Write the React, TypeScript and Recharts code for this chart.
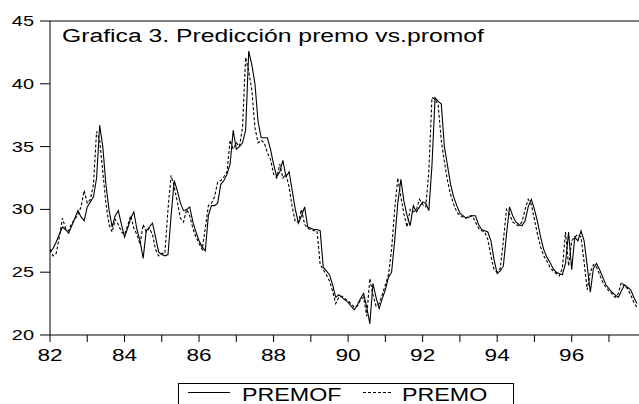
import { LineChart, Line, XAxis, YAxis, ReferenceLine } from "recharts";

// monthly observations, 1982:01 - 1997:10
const premof = [
  26.6, 26.9, 27.4, 28.0, 28.6, 28.4, 28.1, 28.7, 29.3, 29.9, 29.4, 29.1, // 82
  30.2, 30.6, 31.0, 32.5, 36.7, 35.0, 32.0, 30.0, 28.6, 29.5, 29.9, 28.8, // 83
  27.8, 28.5, 29.3, 29.8, 28.4, 27.5, 26.1, 28.3, 28.6, 28.9, 27.8, 26.6, // 84
  26.4, 26.3, 26.4, 29.5, 32.3, 31.5, 30.5, 29.9, 30.0, 30.2, 29.0, 28.2, // 85
  27.5, 27.0, 26.7, 29.5, 30.3, 30.3, 30.5, 32.0, 32.3, 32.8, 33.6, 36.3, // 86
  34.8, 35.0, 35.3, 36.3, 42.6, 41.5, 40.0, 37.0, 35.7, 35.7, 35.7, 34.8, // 87
  33.6, 32.6, 33.0, 33.9, 32.6, 33.0, 31.5, 30.0, 28.9, 29.5, 30.2, 28.6, // 88
  28.5, 28.4, 28.4, 28.3, 25.4, 25.1, 24.8, 24.0, 23.0, 23.2, 23.0, 22.8, // 89
  22.6, 22.3, 22.0, 22.4, 22.9, 23.3, 22.2, 20.9, 24.1, 23.0, 22.1, 22.9, // 90
  23.6, 24.6, 25.0, 27.5, 30.5, 32.4, 30.6, 29.5, 28.7, 30.3, 29.8, 30.2, // 91
  30.6, 30.5, 29.9, 33.5, 38.9, 38.6, 38.4, 35.0, 33.5, 32.0, 31.0, 30.3, // 92
  29.7, 29.5, 29.3, 29.4, 29.5, 29.5, 28.8, 28.4, 28.3, 28.2, 27.5, 26.0, // 93
  24.9, 25.1, 25.5, 28.0, 30.2, 29.5, 29.0, 28.8, 28.7, 29.1, 30.2, 30.8, // 94
  30.0, 29.0, 27.8, 26.8, 26.2, 25.8, 25.3, 25.0, 24.9, 24.8, 25.7, 28.2, // 95
  25.2, 27.8, 27.5, 28.3, 27.5, 25.5, 23.4, 25.3, 25.7, 25.2, 24.6, 24.0, // 96
  23.7, 23.4, 23.2, 23.0, 23.5, 24.0, 23.8, 23.6, 23.0, 22.5, // 97
];

const premo = [
  26.8, 26.3, 26.5, 27.8, 29.3, 28.5, 28.3, 28.9, 29.2, 29.6, 30.2, 31.5,
  30.5, 30.8, 32.0, 36.2, 35.5, 33.0, 30.5, 28.8, 28.2, 29.2, 28.8, 28.2,
  28.0, 28.7, 29.5, 28.5, 28.0, 27.2, 28.8, 28.2, 28.5, 28.0, 26.8, 26.3,
  26.5, 26.5, 30.0, 32.7, 31.8, 30.6, 29.3, 29.0, 30.0, 29.5, 28.5, 27.8,
  27.3, 26.8, 28.5, 30.3, 30.5, 31.0, 32.2, 32.3, 32.6, 33.0, 35.5, 34.8,
  35.3, 35.0, 36.5, 42.1, 41.0, 39.5, 36.5, 35.3, 35.5, 35.3, 34.5, 34.0,
  32.8, 32.5, 33.6, 32.5, 32.8, 31.8, 30.2, 29.0, 29.0, 30.0, 28.8, 28.5,
  28.4, 28.3, 28.3, 25.6, 25.2, 24.8, 24.3, 23.5, 22.5, 23.0, 23.1, 22.9,
  22.7, 22.5, 22.2, 22.3, 22.8, 23.0, 21.5, 24.5, 23.2, 22.3, 22.5, 23.2,
  24.0, 24.8, 26.8, 30.0, 32.5, 31.0, 29.6, 28.6, 30.0, 29.8, 30.0, 30.8,
  30.4, 30.2, 33.0, 38.9, 38.8, 38.3, 35.5, 33.8, 32.3, 31.2, 30.4, 29.8,
  29.5, 29.4, 29.3, 29.5, 29.5, 29.0, 28.5, 28.3, 28.2, 27.6, 26.3, 25.2,
  25.0, 25.3, 27.5, 30.0, 29.6, 29.0, 28.8, 28.7, 29.0, 30.0, 30.8, 30.4,
  29.2, 28.0, 27.0, 26.3, 25.9, 25.4, 25.1, 24.9, 24.7, 25.3, 28.2, 25.5,
  27.5, 27.8, 28.0, 27.8, 25.8, 23.6, 25.0, 25.6, 25.4, 24.8, 24.2, 23.8,
  23.5, 23.3, 23.0, 23.3, 24.2, 23.9, 23.7, 23.2, 22.6, 22.2,
];

const years = [82, 83, 84, 85, 86, 87, 88, 89, 90, 91, 92, 93, 94, 95, 96, 97];
const labelYears = [82, 84, 86, 88, 90, 92, 94, 96];
const yTicks = [20, 25, 30, 35, 40, 45];

const data = premof.map((v, i) => ({ m: i, premof: v, premo: premo[i] }));
const xTicks = years.map((y) => (y - 82) * 12);

const FONT = "'Liberation Sans', Arial, sans-serif";
const SX = 1.33; // the source graph is stretched horizontally

function XTick(props: any) {
  const { x, y, payload } = props;
  const yr = 82 + payload.value / 12;
  if (!labelYears.includes(yr)) return null;
  return (
    <g transform={`translate(${x},${y}) scale(${SX},1)`}>
      <text x={0} y={0} dy={17} textAnchor="middle" fontSize={17} fontFamily={FONT} fill="#000">
        {yr}
      </text>
    </g>
  );
}

function YTick(props: any) {
  const { x, y, payload } = props;
  return (
    <g transform={`translate(${x},${y}) scale(${SX},1)`}>
      <text x={0} y={0} dy={5} textAnchor="end" fontSize={15} fontFamily={FONT} fill="#000">
        {payload.value}
      </text>
    </g>
  );
}

export default function App() {
  return (
    <div style={{ position: "absolute", left: 0, top: 0, width: 639, height: 404, overflow: "hidden", background: "#fff" }}>
      <LineChart width={640} height={404} data={data} margin={{ top: 21, right: 0, left: 0, bottom: 0 }}>
        <XAxis
          dataKey="m"
          type="number"
          domain={[0, 190]}
          ticks={xTicks}
          tick={<XTick />}
          tickSize={7}
          stroke="#000"
          height={69}
          interval={0}
        />
        <YAxis
          domain={[20, 45]}
          ticks={yTicks}
          tick={<YTick />}
          tickSize={10}
          tickMargin={6}
          stroke="#000"
          width={50}
          interval={0}
        />
        <ReferenceLine y={45} stroke="#000" />
        <Line type="linear" dataKey="premof" stroke="#000" strokeWidth={1.1} dot={false} isAnimationActive={false} />
        <Line type="linear" dataKey="premo" stroke="#000" strokeWidth={1.1} strokeDasharray="3 2" dot={false} isAnimationActive={false} />
      </LineChart>

      <svg width={639} height={404} style={{ position: "absolute", left: 0, top: 0, pointerEvents: "none" }}>
        <g transform={`translate(62,41.5) scale(${SX},1)`}>
          <text x={0} y={0} fontSize={18.6} fontFamily={FONT} fill="#000">
            Grafica 3. Predicción premo vs.promof
          </text>
        </g>
        <rect x={178.5} y={383.5} width={335} height={30} fill="#fff" stroke="#000" />
        <line x1={188} x2={230} y1={392.5} y2={392.5} stroke="#000" />
        <g transform={`translate(242,400.5) scale(${SX},1)`}>
          <text x={0} y={0} fontSize={17.5} fontFamily={FONT} fill="#000">PREMOF</text>
        </g>
        <line x1={363} x2={393} y1={392.5} y2={392.5} stroke="#000" strokeDasharray="3 2" />
        <g transform={`translate(402,400.5) scale(${SX},1)`}>
          <text x={0} y={0} fontSize={17.5} fontFamily={FONT} fill="#000">PREMO</text>
        </g>
      </svg>
    </div>
  );
}
